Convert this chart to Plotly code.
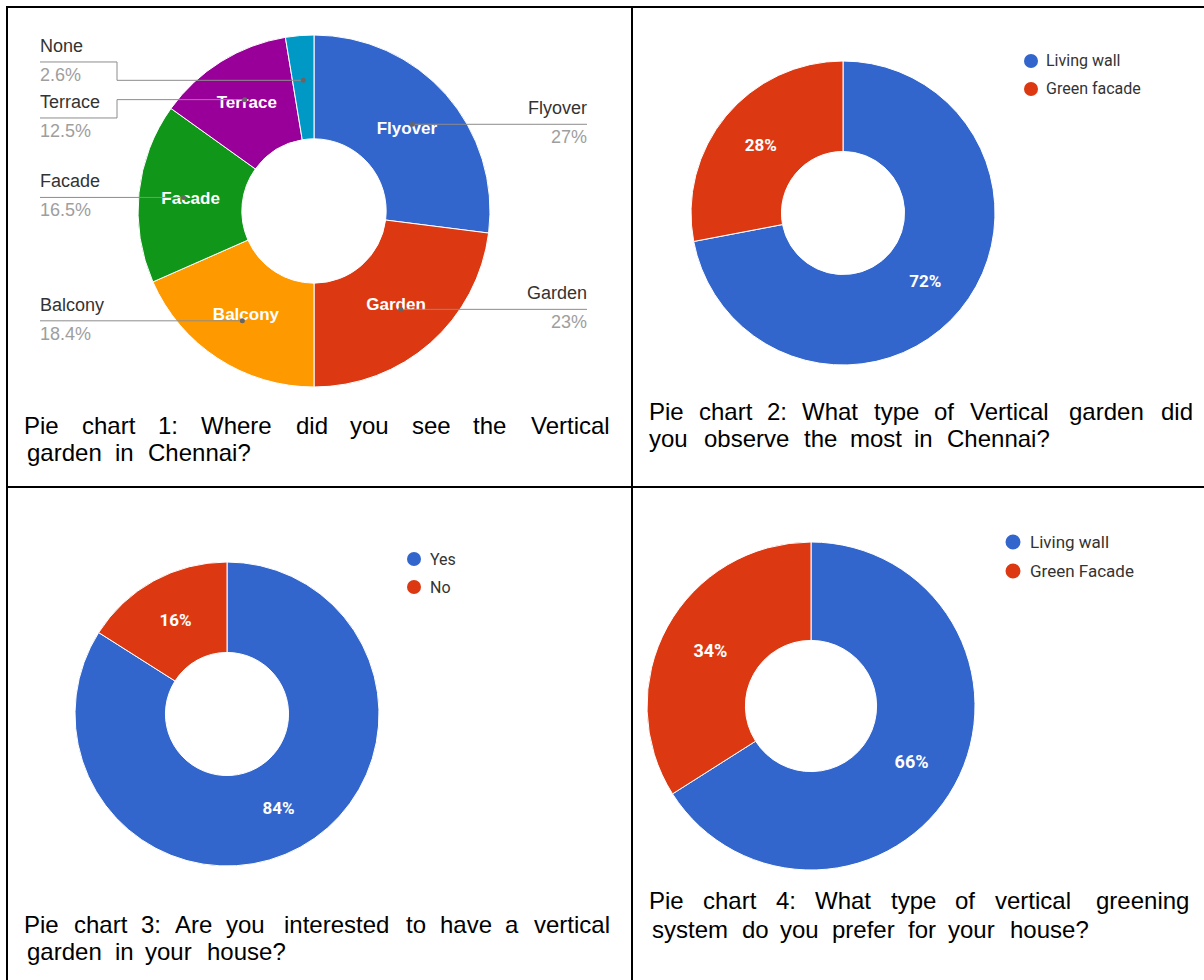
import math
import plotly.graph_objects as go

W, H = 1204, 980

# ---------------- data ----------------
locations = ["Flyover", "Garden", "Balcony", "Facade", "Terrace", "None"]
location_pct = [27, 23, 18.4, 16.5, 12.5, 2.6]
location_colors = ["#3366cc", "#dc3912", "#ff9900", "#109618", "#990099", "#0099c6"]

garden_types = ["Living wall", "Green facade"]
garden_type_pct = [72, 28]

interest = ["Yes", "No"]
interest_pct = [84, 16]

preferred = ["Living wall", "Green Facade"]
preferred_pct = [66, 34]

two_colors = ["#3366cc", "#dc3912"]

caption1 = ["Pie chart 1: Where did you see the Vertical", "garden in Chennai?"]
caption2 = ["Pie chart 2: What type of Vertical garden did", "you observe the most in Chennai?"]
caption3 = ["Pie chart 3: Are you interested to have a vertical", "garden in your house?"]
caption4 = ["Pie chart 4: What type of vertical greening", "system do you prefer for your house?"]

# ---------------- helpers ----------------
def X(px):
    return px / W

def Y(py):
    return 1 - py / H

ARIAL = {' ': 278, '!': 278, '?': 556, ':': 278, '.': 278, ',': 278, '%': 889}
for d in "0123456789":
    ARIAL[d] = 556
ARIAL.update(dict(zip("ABCDEFGHIJKLMNOPQRSTUVWXYZ",
                      [667, 667, 722, 722, 667, 611, 778, 722, 278, 500, 667, 556, 833,
                       722, 778, 667, 778, 722, 667, 611, 722, 667, 944, 667, 667, 611])))
ARIAL.update(dict(zip("abcdefghijklmnopqrstuvwxyz",
                      [556, 556, 500, 556, 556, 278, 556, 556, 222, 222, 500, 222, 833,
                       556, 556, 556, 556, 333, 500, 278, 556, 500, 722, 500, 500, 500])))

def text_w(s, size):
    return sum(ARIAL.get(c, 556) for c in s) * size / 1000.0

ARIAL_FAM = "Arial, Liberation Sans, sans-serif"
ROBOTO_FAM = "Roboto, Arial, sans-serif"

fig = go.Figure()
shapes = []
annotations = []


def note(x, y, text, font, xanchor="left", yanchor="middle"):
    annotations.append(dict(x=X(x), y=Y(y), xref="paper", yref="paper", text=text,
                            showarrow=False, xanchor=xanchor, yanchor=yanchor,
                            borderpad=0, borderwidth=0, font=font))


def pie_domain(cx, cy, r):
    return dict(x=[X(cx - r), X(cx + r)], y=[Y(cy + r), Y(cy - r)])


# ---------------- pie 1 ----------------
P1 = dict(cx=314, cy=211, r=176, hole=0.41)
inside_text = [lab if v >= 5 else "" for lab, v in zip(locations, location_pct)]
fig.add_trace(go.Pie(
    labels=locations, values=location_pct, text=inside_text, textinfo="text",
    textposition="inside", insidetextorientation="horizontal",
    insidetextfont=dict(family=ARIAL_FAM, size=17, color="white", weight="bold"),
    marker=dict(colors=location_colors, line=dict(color="white", width=1)),
    hole=P1["hole"], sort=False, direction="clockwise", rotation=0,
    domain=pie_domain(P1["cx"], P1["cy"], P1["r"]), showlegend=False,
    hoverinfo="label+percent"))

# leader-line labels (positions derived from slice angles)
total = float(sum(location_pct))
rho = 0.745 * P1["r"]
items = []
cum = 0.0
for lab, v in zip(locations, location_pct):
    mid = (cum + v / 2.0) / total
    cum += v
    th = 2 * math.pi * mid
    ax = P1["cx"] + rho * math.sin(th)
    ay = P1["cy"] - rho * math.cos(th)
    items.append(dict(lab=lab, v=v, ax=ax, ay=ay, side="R" if math.sin(th) > 0 else "L", ly=ay))

GAP = 56
for side in ("L", "R"):
    grp = sorted([it for it in items if it["side"] == side], key=lambda d: d["ay"])
    for _ in range(200):
        for k in range(len(grp) - 1):
            dgap = grp[k + 1]["ly"] - grp[k]["ly"]
            if dgap < GAP:
                s = (GAP - dgap) / 2.0
                grp[k]["ly"] -= s
                grp[k + 1]["ly"] += s

LX0, LJOG = 40, 117
RX1, RJOG = 587, 510
line_col = "#8c8c8c"
for it in items:
    ax, ay, ly = it["ax"], it["ay"], it["ly"]
    if it["side"] == "L":
        if abs(ly - ay) > 0.5:
            pts = [(LX0, ly), (LJOG, ly), (LJOG, ay), (ax, ay)]
        else:
            pts = [(LX0, ly), (ax, ay)]
        tx, anchor = LX0, "left"
    else:
        if abs(ly - ay) > 0.5:
            pts = [(ax, ay), (RJOG, ay), (RJOG, ly), (RX1, ly)]
        else:
            pts = [(ax, ay), (RX1, ly)]
        tx, anchor = RX1, "right"
    path = "M " + " L ".join(f"{X(px):.5f},{Y(py):.5f}" for px, py in pts)
    shapes.append(dict(type="path", path=path, xref="paper", yref="paper",
                       line=dict(color=line_col, width=1), layer="above"))
    shapes.append(dict(type="circle", xref="paper", yref="paper",
                       x0=X(ax - 2.5), x1=X(ax + 2.5), y0=Y(ay + 2.5), y1=Y(ay - 2.5),
                       fillcolor="#666666", line=dict(width=0), layer="above"))
    note(tx, ly - 16, it["lab"], dict(family=ARIAL_FAM, size=18, color="#333333"), xanchor=anchor)
    note(tx, ly + 13, f"{it['v']:g}%", dict(family=ARIAL_FAM, size=18, color="#9e9e9e"), xanchor=anchor)


# ---------------- pies 2-4 ----------------
def two_pie(labels, values, cx, cy, r, hole, fsize):
    fig.add_trace(go.Pie(
        labels=labels, values=values, texttemplate="%{percent:.0%}",
        textposition="inside", insidetextorientation="horizontal",
        insidetextfont=dict(family=ROBOTO_FAM, size=fsize, color="white", weight="bold"),
        marker=dict(colors=two_colors, line=dict(color="white", width=1)),
        hole=hole, sort=False, direction="clockwise", rotation=0,
        domain=pie_domain(cx, cy, r), showlegend=False, hoverinfo="label+percent"))


def legend(labels, cx, cy0, dy, tx, fsize, rad):
    for k, lab in enumerate(labels):
        cy = cy0 + k * dy
        shapes.append(dict(type="circle", xref="paper", yref="paper",
                           x0=X(cx - rad), x1=X(cx + rad), y0=Y(cy + rad), y1=Y(cy - rad),
                           fillcolor=two_colors[k], line=dict(width=0), layer="above"))
        note(tx, cy, lab, dict(family=ROBOTO_FAM, size=fsize, color="#333333"))


two_pie(garden_types, garden_type_pct, 843, 213, 152, 0.405, 17)
legend(garden_types, 1031, 61, 28, 1046, 16, 7)

two_pie(interest, interest_pct, 227, 714, 152, 0.405, 17)
legend(interest, 414, 559, 28, 430, 16, 7)

two_pie(preferred, preferred_pct, 811, 706, 164, 0.40, 18)
legend(preferred, 1013, 542, 29, 1030, 17, 7.5)


# ---------------- captions ----------------
REF_SIZE = 27     # horizontal metric of the reference text
TXT_SIZE = 24


def caption(lines, x0, x1, ys):
    for li, (line, y) in enumerate(zip(lines, ys)):
        words = line.split()
        ws = [text_w(w, REF_SIZE) for w in words]
        justify = li < len(lines) - 1 and len(words) > 1
        if justify:
            gap = (x1 - x0 - sum(ws)) / (len(words) - 1)
        else:
            gap = text_w(" ", REF_SIZE)
        pos = x0
        for w, ww in zip(words, ws):
            note(pos + ww / 2.0, y, w, dict(family=ARIAL_FAM, size=TXT_SIZE, color="#000000"),
                 xanchor="center")
            pos += ww + gap


caption(caption1, 22, 616, [425, 452])
caption(caption2, 647, 1195, [411, 438])
caption(caption3, 22, 615, [924, 951])
caption(caption4, 647, 1195, [900, 929])

# ---------------- table borders ----------------
for (xa, ya, xb, yb) in [(6, 7, 1204, 7), (7, 6, 7, 980), (632, 7, 632, 980), (6, 487, 1204, 487)]:
    shapes.append(dict(type="line", xref="paper", yref="paper", x0=X(xa), y0=Y(ya),
                       x1=X(xb), y1=Y(yb), line=dict(color="#000000", width=2), layer="above"))

fig.update_layout(width=W, height=H, autosize=False,
                  margin=dict(l=0, r=0, t=0, b=0, pad=0),
                  paper_bgcolor="white", plot_bgcolor="white",
                  showlegend=False, shapes=shapes, annotations=annotations)

fig.write_html("out.html")
